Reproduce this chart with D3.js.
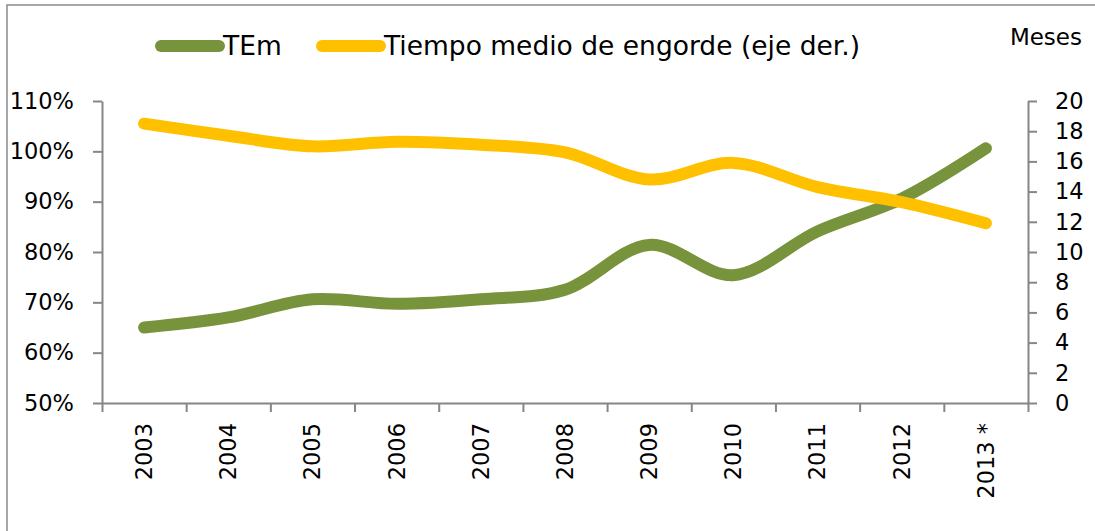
<!DOCTYPE html>
<html>
<head>
<meta charset="utf-8">
<script src="https://cdn.jsdelivr.net/npm/d3@7"></script>
<style>
  body { margin: 0; background: #fff; }
  text { font-family: "DejaVu Sans", sans-serif; fill: #000; }
</style>
</head>
<body>
<svg width="1095" height="531"></svg>
<script>
// data
var years = ["2003", "2004", "2005", "2006", "2007", "2008", "2009", "2010", "2011", "2012", "2013 *"];
var tem = [65, 67, 70.6, 69.7, 70.6, 72.5, 81.4, 75.4, 84.1, 90.6, 100.6];          // % (left axis)
var tiempo = [18.5, 17.7, 17.0, 17.3, 17.1, 16.6, 14.8, 15.9, 14.3, 13.3, 11.9];    // meses (right axis)
var leftTicks = [50, 60, 70, 80, 90, 100, 110];
var rightTicks = [0, 2, 4, 6, 8, 10, 12, 14, 16, 18, 20];
var seriesNames = ["TEm", "Tiempo medio de engorde (eje der.)"];
var colors = ["#77933C", "#FFC000"];

var svg = d3.select("svg");
var x0 = 102, x1 = 1028, yTop = 101, yBot = 403;
var axisColor = "#868686";

// outer frame
svg.append("rect")
  .attr("x", 7).attr("y", 5).attr("width", 1200).attr("height", 700)
  .attr("fill", "none").attr("stroke", "#8a8a8a").attr("stroke-width", 1.5);

var xScale = d3.scaleBand().domain(years).range([x0, x1]).padding(0);
var xEdge = d3.scaleLinear().domain([0, years.length]).range([x0, x1]);
var yLeft = d3.scaleLinear().domain([50, 110]).range([yBot, yTop]);
var yRight = d3.scaleLinear().domain([0, 20]).range([yBot, yTop]);

function styleAxis(g) {
  g.selectAll("path, line").attr("stroke", axisColor).attr("stroke-width", 2);
  g.selectAll("text").attr("font-size", "22.5px").attr("font-family", "DejaVu Sans, sans-serif").attr("fill", "#000");
}

// left axis
svg.append("g")
  .attr("transform", "translate(" + x0 + ",0)")
  .call(d3.axisLeft(yLeft).tickValues(leftTicks).tickFormat(d => d + "%").tickSize(9).tickSizeOuter(0).tickPadding(19))
  .call(styleAxis);

// right axis
svg.append("g")
  .attr("transform", "translate(" + x1 + ",0)")
  .call(d3.axisRight(yRight).tickValues(rightTicks).tickSize(9).tickSizeOuter(0).tickPadding(18))
  .call(styleAxis);

// bottom axis: tick marks between categories
svg.append("g")
  .attr("transform", "translate(0," + yBot + ")")
  .call(d3.axisBottom(xEdge).tickValues(d3.range(years.length + 1)).tickFormat("").tickSize(9).tickSizeOuter(0))
  .call(styleAxis);

// bottom labels, rotated
var xLab = svg.append("g")
  .attr("transform", "translate(0," + yBot + ")")
  .call(d3.axisBottom(xScale).tickSize(0).tickPadding(0))
  .call(styleAxis);
xLab.select(".domain").remove();
xLab.selectAll("text")
  .attr("transform", "rotate(-90)")
  .attr("text-anchor", "end")
  .attr("x", -20)
  .attr("y", 0)
  .attr("dy", "0.35em");

// lines
var lineLeft = d3.line()
  .x((d, i) => xScale(years[i]) + xScale.bandwidth() / 2)
  .y(d => yLeft(d))
  .curve(d3.curveCatmullRom.alpha(0.5));
var lineRight = d3.line()
  .x((d, i) => xScale(years[i]) + xScale.bandwidth() / 2)
  .y(d => yRight(d))
  .curve(d3.curveCatmullRom.alpha(0.5));

svg.append("path").datum(tem)
  .attr("d", lineLeft)
  .attr("fill", "none").attr("stroke", colors[0]).attr("stroke-width", 12)
  .attr("stroke-linecap", "round").attr("stroke-linejoin", "round");

svg.append("path").datum(tiempo)
  .attr("d", lineRight)
  .attr("fill", "none").attr("stroke", colors[1]).attr("stroke-width", 12)
  .attr("stroke-linecap", "round").attr("stroke-linejoin", "round");

// legend
var legX = [161, 322];
seriesNames.forEach(function(name, i) {
  var lg = svg.append("g").attr("transform", "translate(" + legX[i] + ",46)");
  lg.append("line").attr("x1", 0).attr("x2", 58).attr("y1", 0).attr("y2", 0)
    .attr("stroke", colors[i]).attr("stroke-width", 12).attr("stroke-linecap", "round");
  lg.append("text").attr("x", 62).attr("y", 9).attr("font-size", "26.5px").text(name);
});

// right axis title
svg.append("text").attr("x", 1082).attr("y", 45).attr("text-anchor", "end")
  .attr("font-size", "23px").text("Meses");
</script>
</body>
</html>
